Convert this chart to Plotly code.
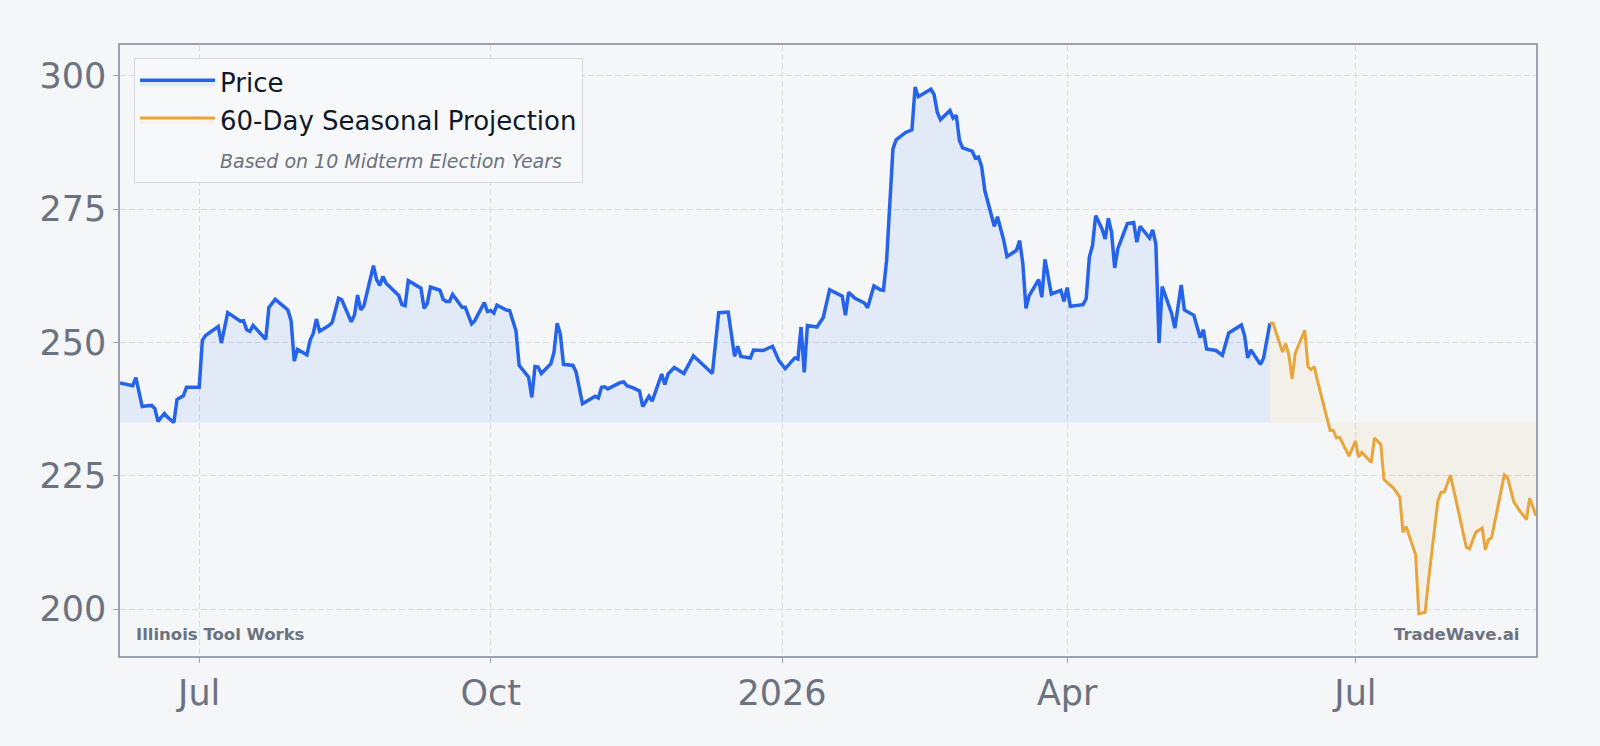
import plotly.graph_objects as go

# ---------------- data ----------------
price_dates = [
    "2025-06-06", "2025-06-10", "2025-06-11", "2025-06-13", "2025-06-14", "2025-06-16", "2025-06-17",
    "2025-06-18", "2025-06-20", "2025-06-21", "2025-06-23", "2025-06-24", "2025-06-26", "2025-06-27",
    "2025-07-01", "2025-07-02", "2025-07-03", "2025-07-07", "2025-07-08", "2025-07-10", "2025-07-14",
    "2025-07-15", "2025-07-16", "2025-07-17", "2025-07-18", "2025-07-20", "2025-07-22", "2025-07-23",
    "2025-07-25", "2025-07-29", "2025-07-30", "2025-07-31", "2025-08-01", "2025-08-04", "2025-08-05",
    "2025-08-06", "2025-08-07", "2025-08-08", "2025-08-11", "2025-08-12", "2025-08-14", "2025-08-15",
    "2025-08-18", "2025-08-19", "2025-08-20", "2025-08-21", "2025-08-22", "2025-08-25", "2025-08-26",
    "2025-08-27", "2025-08-28", "2025-08-29", "2025-09-02", "2025-09-03", "2025-09-04", "2025-09-05",
    "2025-09-09", "2025-09-10", "2025-09-11", "2025-09-12", "2025-09-15", "2025-09-16", "2025-09-17",
    "2025-09-18", "2025-09-19", "2025-09-22", "2025-09-23", "2025-09-25", "2025-09-26", "2025-09-29",
    "2025-09-30", "2025-10-01", "2025-10-02", "2025-10-03", "2025-10-06", "2025-10-07", "2025-10-09",
    "2025-10-10", "2025-10-13", "2025-10-14", "2025-10-15", "2025-10-16", "2025-10-17", "2025-10-20",
    "2025-10-21", "2025-10-22", "2025-10-23", "2025-10-24", "2025-10-27", "2025-10-28", "2025-10-30",
    "2025-11-03", "2025-11-04", "2025-11-05", "2025-11-06", "2025-11-07", "2025-11-11", "2025-11-12",
    "2025-11-13", "2025-11-15", "2025-11-17", "2025-11-18", "2025-11-20", "2025-11-21", "2025-11-24",
    "2025-11-25", "2025-11-26", "2025-11-28", "2025-12-01", "2025-12-04", "2025-12-10", "2025-12-12",
    "2025-12-15", "2025-12-17", "2025-12-18", "2025-12-19", "2025-12-22", "2025-12-23", "2025-12-26",
    "2025-12-29", "2025-12-31", "2026-01-02", "2026-01-05", "2026-01-06", "2026-01-07", "2026-01-08",
    "2026-01-09", "2026-01-12", "2026-01-14", "2026-01-16", "2026-01-20", "2026-01-21", "2026-01-22",
    "2026-01-24", "2026-01-27", "2026-01-28", "2026-01-30", "2026-02-01", "2026-02-02", "2026-02-03",
    "2026-02-04", "2026-02-05", "2026-02-06", "2026-02-09", "2026-02-11", "2026-02-12", "2026-02-13",
    "2026-02-17", "2026-02-18", "2026-02-19", "2026-02-20", "2026-02-23", "2026-02-24", "2026-02-25",
    "2026-02-26", "2026-02-27", "2026-03-02", "2026-03-03", "2026-03-04", "2026-03-05", "2026-03-06",
    "2026-03-09", "2026-03-10", "2026-03-12", "2026-03-13", "2026-03-16", "2026-03-17", "2026-03-18",
    "2026-03-19", "2026-03-20", "2026-03-23", "2026-03-24", "2026-03-25", "2026-03-27", "2026-03-30",
    "2026-03-31", "2026-04-01", "2026-04-02", "2026-04-06", "2026-04-07", "2026-04-08", "2026-04-09",
    "2026-04-10", "2026-04-12", "2026-04-13", "2026-04-14", "2026-04-15", "2026-04-16", "2026-04-17",
    "2026-04-20", "2026-04-22", "2026-04-23", "2026-04-24", "2026-04-27", "2026-04-28", "2026-04-29",
    "2026-04-30", "2026-05-01", "2026-05-04", "2026-05-05", "2026-05-07", "2026-05-08", "2026-05-11",
    "2026-05-13", "2026-05-14", "2026-05-15", "2026-05-18", "2026-05-20", "2026-05-22", "2026-05-26",
    "2026-05-27", "2026-05-28", "2026-05-29", "2026-06-01", "2026-06-02", "2026-06-04",
]
price_values = [
    242.4, 241.9, 243.4, 238.0, 238.1, 238.2, 237.6,
    235.2, 236.7, 236.0, 235.0, 239.3, 240.0, 241.6,
    241.6, 250.4, 251.3, 253.0, 249.9, 255.6, 254.0,
    254.1, 252.4, 252.1, 253.2, 251.9, 250.6, 256.6,
    258.1, 256.1, 254.1, 246.5, 248.7, 247.7, 250.4,
    251.7, 254.4, 252.1, 253.2, 253.8, 258.3, 258.0,
    253.9, 255.1, 258.9, 256.1, 256.9, 264.4, 261.8,
    260.7, 262.4, 261.1, 258.8, 257.1, 256.9, 261.6,
    260.2, 256.4, 257.3, 260.4, 259.8, 258.1, 257.7,
    257.7, 259.0, 256.6, 256.6, 253.5, 254.1, 257.5,
    255.8, 256.0, 255.5, 257.0, 256.1, 256.0, 252.2,
    245.7, 243.5, 239.7, 245.5, 245.4, 244.2, 246.0,
    248.2, 253.6, 251.6, 245.9, 245.7, 244.4, 238.5,
    239.9, 239.6, 241.6, 241.7, 241.3, 242.5, 242.6,
    241.9, 241.5, 240.9, 238.0, 239.9, 239.0, 244.1,
    242.1, 244.1, 245.3, 244.2, 247.5, 244.2, 255.6,
    255.7, 247.4, 249.3, 247.4, 247.1, 248.6, 248.5,
    249.3, 246.6, 245.1, 247.1, 246.9, 252.9, 244.4,
    253.2, 252.9, 254.7, 259.9, 258.7, 255.1, 259.4,
    258.3, 257.4, 256.5, 260.6, 259.9, 259.8, 265.4,
    276.6, 286.3, 288.0, 289.4, 289.9, 297.9, 296.1,
    297.5, 296.5, 293.2, 291.8, 293.5, 292.1, 292.6,
    287.9, 286.5, 285.9, 284.6, 284.8, 283.0, 278.5,
    271.8, 273.6, 269.1, 266.1, 267.3, 269.1, 264.8,
    256.4, 258.8, 261.8, 258.5, 265.6, 259.1, 259.8,
    257.7, 260.3, 256.8, 257.1, 258.2, 266.0, 268.2,
    273.8, 271.3, 269.4, 273.3, 270.7, 264.0, 267.6,
    272.3, 272.5, 268.8, 271.8, 269.6, 271.1, 268.5,
    249.9, 260.5, 255.4, 252.7, 260.8, 256.1, 255.1,
    250.9, 252.4, 248.8, 248.5, 247.6, 251.8, 253.3,
    251.3, 247.1, 248.6, 245.9, 247.1, 253.6,
]

proj_dates = [
    "2026-06-04", "2026-06-05", "2026-06-08", "2026-06-09", "2026-06-10", "2026-06-11", "2026-06-12",
    "2026-06-15", "2026-06-16", "2026-06-17", "2026-06-18", "2026-06-19", "2026-06-23", "2026-06-24",
    "2026-06-25", "2026-06-26", "2026-06-29", "2026-07-01", "2026-07-02", "2026-07-03", "2026-07-06",
    "2026-07-07", "2026-07-09", "2026-07-10", "2026-07-13", "2026-07-14", "2026-07-15", "2026-07-16",
    "2026-07-17", "2026-07-20", "2026-07-21", "2026-07-23", "2026-07-24", "2026-07-27", "2026-07-28",
    "2026-07-29", "2026-07-31", "2026-08-05", "2026-08-06", "2026-08-08", "2026-08-10", "2026-08-11",
    "2026-08-12", "2026-08-13", "2026-08-17", "2026-08-18", "2026-08-20", "2026-08-22", "2026-08-24",
    "2026-08-25", "2026-08-27",
]
proj_values = [
    253.6, 253.6, 248.2, 249.8, 247.6, 243.2, 248.0,
    252.3, 245.5, 244.9, 245.5, 242.9, 233.5, 233.5,
    232.1, 232.2, 228.7, 231.5, 228.5, 229.4, 227.5,
    232.1, 230.9, 224.3, 222.7, 221.9, 221.0, 214.4,
    215.5, 210.2, 199.1, 199.4, 205.0, 220.2, 221.9,
    221.9, 225.1, 211.6, 211.3, 214.4, 215.2, 211.1,
    213.0, 213.4, 225.2, 224.7, 220.1, 218.3, 216.8,
    220.8, 217.5,
]

x_tick_vals = ["2025-07-01", "2025-10-01", "2026-01-01", "2026-04-01", "2026-07-01"]
x_tick_text = ["Jul", "Oct", "2026", "Apr", "Jul"]
y_tick_vals = [200, 225, 250, 275, 300]

company = "Illinois Tool Works"
brand = "TradeWave.ai"

# ---------------- styling ----------------
BG = "#f5f6f8"
BLUE = "#2563eb"
ORANGE = "#e9a53a"
GRID = "#d9dce3"
AXIS = "#9ca3af"
TICK = "#6b7280"
FONT = "DejaVu Sans"

base = min(price_values)

fig = go.Figure()

# baseline + price fill
fig.add_trace(go.Scatter(x=price_dates, y=[base] * len(price_dates), mode="lines",
                         line=dict(width=0, color="rgba(0,0,0,0)"), showlegend=False,
                         hoverinfo="skip"))
fig.add_trace(go.Scatter(x=price_dates, y=price_values, mode="lines", name="Price",
                         line=dict(color=BLUE, width=3.5), fill="tonexty",
                         fillcolor="rgba(59,130,246,0.1)", legendgroup="a"))

# baseline + projection fill
fig.add_trace(go.Scatter(x=proj_dates, y=[base] * len(proj_dates), mode="lines",
                         line=dict(width=0, color="rgba(0,0,0,0)"), showlegend=False,
                         hoverinfo="skip"))
fig.add_trace(go.Scatter(x=proj_dates, y=proj_values, mode="lines",
                         name="60-Day Seasonal Projection",
                         line=dict(color=ORANGE, width=3), fill="tonexty",
                         fillcolor="rgba(233,165,58,0.08)", legendgroup="b"))

# legend subtitle entry
fig.add_trace(go.Scatter(x=[None], y=[None], mode="lines",
                         name="<span style='font-size:19px;color:#6b7280'><i>Based on 10 Midterm Election Years</i></span>",
                         line=dict(color="rgba(0,0,0,0)", width=0), legendgroup="c"))

fig.update_layout(
    width=1600, height=746,
    margin=dict(l=120, r=64, t=45, b=90),
    paper_bgcolor=BG, plot_bgcolor=BG,
    font=dict(family=FONT, color=TICK),
    showlegend=True,
    legend=dict(x=0.0099, y=0.979, xanchor="left", yanchor="top",
                bgcolor="rgba(247,248,250,0.9)", bordercolor="#d6d9e0", borderwidth=1,
                font=dict(family=FONT, size=26, color="#111827"),
                traceorder="grouped", tracegroupgap=1, itemwidth=75),
    xaxis=dict(type="date", range=["2025-06-06", "2026-08-27"],
               tickvals=x_tick_vals, ticktext=x_tick_text,
               tickfont=dict(family=FONT, size=35, color=TICK),
               showgrid=True, gridcolor=GRID, griddash="6px,3px", gridwidth=1,
               showline=True, linecolor=AXIS, linewidth=1.5, mirror=True,
               ticks="outside", ticklen=5, tickcolor=AXIS, zeroline=False),
    yaxis=dict(range=[191.2, 305.8], tickvals=y_tick_vals,
               tickfont=dict(family=FONT, size=35, color=TICK),
               showgrid=True, gridcolor=GRID, griddash="6px,3px", gridwidth=1,
               showline=True, linecolor=AXIS, linewidth=1.5, mirror=True,
               ticks="outside", ticklen=5, tickcolor=AXIS, zeroline=False),
    annotations=[
        dict(text=f"<b>{company}</b>", xref="paper", yref="paper", x=0.0099, y=0.036,
             xanchor="left", yanchor="middle", showarrow=False,
             font=dict(family=FONT, size=16.5, color=TICK)),
        dict(text=f"<b>{brand}</b>", xref="paper", yref="paper", x=0.9894, y=0.036,
             xanchor="right", yanchor="middle", showarrow=False,
             font=dict(family=FONT, size=16.5, color=TICK)),
    ],
)

fig.write_html("out.html")
